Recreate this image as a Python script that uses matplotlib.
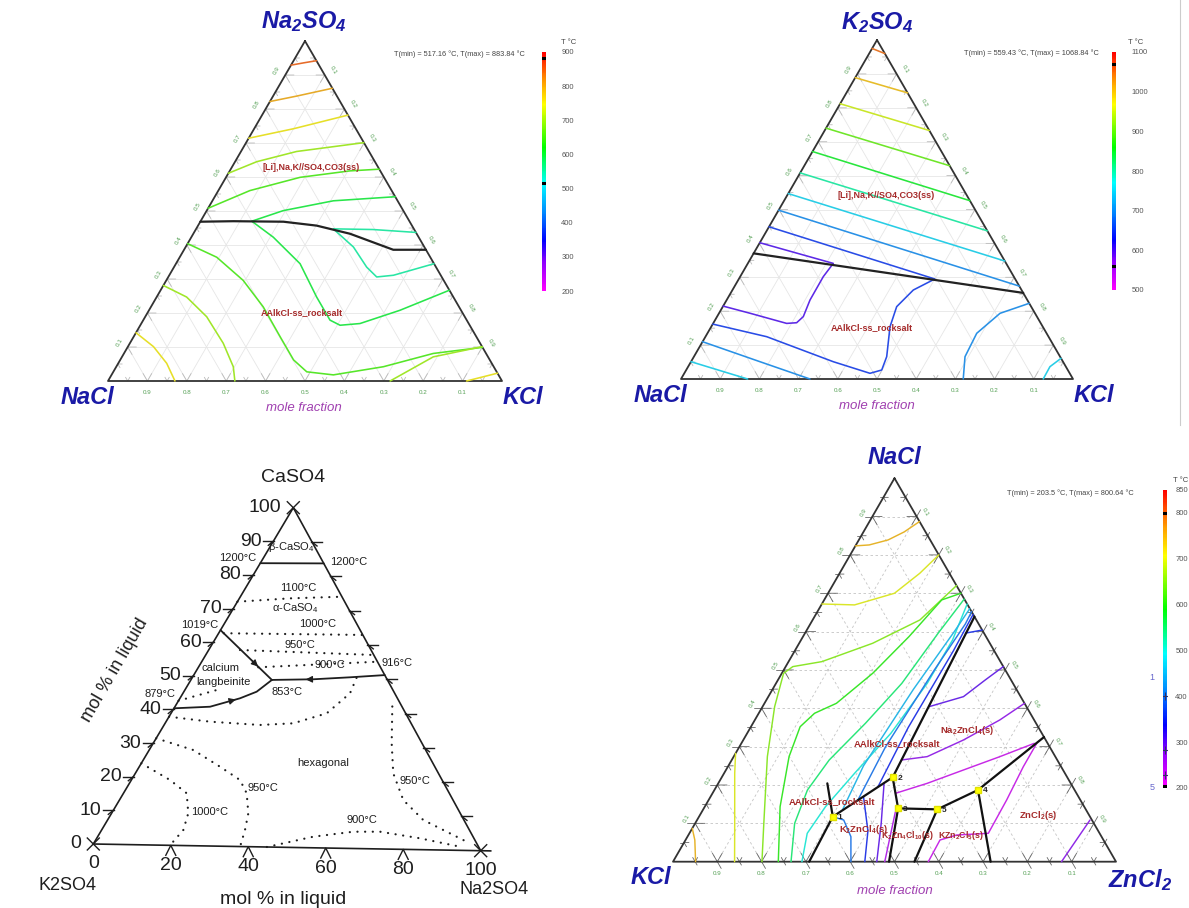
import numpy as np
import matplotlib
matplotlib.use("Agg")
import matplotlib.pyplot as plt
from matplotlib.colors import LinearSegmentedColormap, Normalize
import matplotlib.colorbar as mcolorbar

plt.rcParams['font.family'] = ['Liberation Sans', 'DejaVu Sans']

# ======================= DATA =======================
# Panel 1: Na2SO4 (top, a) - NaCl (left) - KCl (right, c); points are (a, c)
p1_iso_850 = [(0.929, 0.0), (0.936, 0.03), (0.942, 0.058)]
p1_iso_800 = [(0.822, 0.0), (0.838, 0.06), (0.861, 0.139)]
p1_iso_750 = [(0.714, 0.0), (0.742, 0.10), (0.782, 0.218)]
p1_iso_700 = [(0.611, 0.0), (0.645, 0.055), (0.675, 0.141), (0.701, 0.299)]
p1_iso_650 = [(0.508, 0.0), (0.560, 0.080), (0.599, 0.188), (0.618, 0.305), (0.623, 0.377)]
p1_iso_600 = [(0.542, 0.458), (0.530, 0.307), (0.501, 0.194), (0.470, 0.130), (0.423, 0.208),
              (0.345, 0.315), (0.247, 0.406), (0.179, 0.474), (0.164, 0.507), (0.169, 0.555),
              (0.208, 0.637), (0.267, 0.733)]
p1_iso_550 = [(0.437, 0.563), (0.4455, 0.45), (0.4475, 0.348), (0.394, 0.426), (0.335, 0.489),
              (0.306, 0.529), (0.311, 0.569), (0.345, 0.655)]
p1_iso_650b = [(0.404, 0.0), (0.364, 0.094), (0.296, 0.195), (0.218, 0.285), (0.130, 0.372),
               (0.062, 0.44), (0.027, 0.491), (0.018, 0.563), (0.042, 0.678), (0.081, 0.785),
               (0.099, 0.901)]
p1_iso_700b = [(0.281, 0.0), (0.247, 0.076), (0.189, 0.156), (0.111, 0.237), (0.042, 0.297), (0.0, 0.322)]
p1_iso_750b = [(0.142, 0.0), (0.101, 0.065), (0.052, 0.123), (0.0, 0.170)]
p1_iso_700c = [(0.0, 0.716), (0.071, 0.79), (0.101, 0.899)]
p1_iso_750c = [(0.0, 0.91), (0.023, 0.977)]
p1_temps = [850, 800, 750, 700, 650, 600, 550, 650, 700, 750, 700, 750]
p1_boundary = [(0.4685, 0.0), (0.470, 0.083), (0.4685, 0.211), (0.457, 0.301), (0.433, 0.398),
               (0.404, 0.480), (0.386, 0.531), (0.386, 0.614)]
p1_tmin, p1_tmax = 517.16, 883.84

# Panel 2: K2SO4 (top, a) - NaCl (left) - KCl (right, c)
p2_iso_1050 = [(0.975, 0.0), (0.96, 0.04)]
p2_iso_1000 = [(0.889, 0.0), (0.844, 0.156)]
p2_iso_950 = [(0.812, 0.0), (0.733, 0.267)]
p2_iso_900 = [(0.740, 0.0), (0.629, 0.371)]
p2_iso_850 = [(0.671, 0.0), (0.526, 0.474)]
p2_iso_800 = [(0.608, 0.0), (0.437, 0.563)]
p2_iso_750 = [(0.547, 0.0), (0.348, 0.652)]
p2_iso_700 = [(0.498, 0.0), (0.274, 0.726)]
p2_iso_650 = [(0.449, 0.0), (0.295, 0.50), (0.2625, 0.4614), (0.2134, 0.4435), (0.1544, 0.456),
              (0.0659, 0.4918), (0.0265, 0.4988), (0.0168, 0.4737), (0.051, 0.363),
              (0.1248, 0.1562), (0.162, 0.0)]
p2_iso_600 = [(0.402, 0.0), (0.341, 0.218), (0.302, 0.212), (0.233, 0.2126), (0.184, 0.22),
              (0.166, 0.212), (0.164, 0.1876), (0.194, 0.079), (0.215, 0.0)]
p2_iso_700b = [(0.11, 0.0), (0.051, 0.176), (0.0, 0.329)]
p2_iso_750b = [(0.051, 0.0), (0.0, 0.17)]
p2_iso_700c = [(0.2233, 0.7767), (0.1938, 0.717), (0.1348, 0.687), (0.0658, 0.6916), (0.0, 0.72)]
p2_iso_750c = [(0.061, 0.939), (0.0363, 0.923), (0.0, 0.924)]
p2_temps = [1050, 1000, 950, 900, 850, 800, 750, 700, 650, 600, 700, 750, 700, 750]
p2_boundary = [(0.3706, 0.0), (0.254, 0.746)]
p2_tmin, p2_tmax = 559.43, 1068.84

# Panel 3: CaSO4 (top, a) - K2SO4 (left) - Na2SO4 (right, c), mol fractions
p3_beta_alpha = [(0.835, 0.0), (0.8376, 0.1624)]
p3_1019_E = [(0.636, 0.0), (0.492, 0.207)]
p3_879_E = [(0.4035, 0.0), (0.410, 0.0897), (0.4363, 0.1534), (0.4566, 0.186), (0.492, 0.207)]
p3_916_E = [(0.512, 0.488), (0.5037, 0.4026), (0.496, 0.3118), (0.492, 0.207)]
p3_dot_1100 = [(0.7205, 0.0), (0.733, 0.129), (0.7405, 0.2595)]
p3_dot_1000 = [(0.627, 0.013), (0.629, 0.371)]
p3_dot_950 = [(0.5785, 0.080), (0.5706, 0.4294)]
p3_dot_900 = [(0.5285, 0.153), (0.551, 0.449)]
p3_dot_879 = [(0.426, 0.0), (0.4595, 0.0813)]
p3_dot_hex = [(0.3785, 0.0), (0.366, 0.1123), (0.3588, 0.245), (0.3654, 0.3276), (0.3965, 0.3978),
              (0.4566, 0.4269), (0.503, 0.42)]
p3_dot_950L = [(0.3143, 0.0), (0.2817, 0.1127), (0.234, 0.2062), (0.1958, 0.2776), (0.157, 0.3149),
               (0.0983, 0.3494), (0.049, 0.3663), (0.0, 0.379)]
p3_dot_1000L = [(0.24, 0.0), (0.1923, 0.0987), (0.154, 0.1616), (0.0952, 0.196), (0.0458, 0.2087),
                (0.0, 0.198)]
p3_dot_950R = [(0.42, 0.555), (0.3115, 0.6094), (0.2233, 0.659), (0.1452, 0.7252), (0.0874, 0.8066),
               (0.059, 0.873), (0.021, 0.9614)]
p3_dot_900B = [(0.0, 0.448), (0.0327, 0.551), (0.0494, 0.6456), (0.0508, 0.7138), (0.0334, 0.826),
               (0.0107, 0.941)]
p3_left_ticks = [0, 10, 20, 30, 40, 50, 60, 70, 80, 90, 100]
p3_bottom_ticks = [0, 20, 40, 60, 80, 100]

# Panel 4: NaCl (top, a) - KCl (left) - ZnCl2 (right, c)
p4_iso_750 = [(0.8235, 0.0), (0.826, 0.03), (0.839, 0.066), (0.86, 0.092), (0.887, 0.113)]
p4_iso_700 = [(0.672, 0.0), (0.6696, 0.075), (0.70, 0.15), (0.752, 0.181), (0.80, 0.20)]
p4_iso_650 = [(0.0, 0.2008), (0.10, 0.155), (0.274, 0.076), (0.4043, 0.0273), (0.4913, 0.004),
              (0.5087, 0.0161), (0.5217, 0.0752), (0.5696, 0.166), (0.6304, 0.2422), (0.72, 0.28)]
p4_iso_600 = [(0.0, 0.2377), (0.1435, 0.17), (0.274, 0.125), (0.352, 0.111), (0.387, 0.126),
              (0.413, 0.1624), (0.4913, 0.2052), (0.587, 0.2393), (0.6826, 0.2653), (0.70, 0.30)]
p4_iso_550 = [(0.0, 0.2664), (0.1, 0.2246), (0.187, 0.21), (0.265, 0.22), (0.361, 0.254),
              (0.465, 0.284), (0.5957, 0.3006), (0.685, 0.315)]
p4_iso_500 = [(0.0, 0.291), (0.074, 0.266), (0.1435, 0.2725), (0.2304, 0.2946), (0.3348, 0.3244),
              (0.465, 0.3413), (0.578, 0.342), (0.672, 0.328)]
p4_iso_450 = [(0.135, 0.315), (0.25, 0.305), (0.45, 0.318), (0.60, 0.335), (0.66, 0.34)]
p4_iso_400 = [(0.16, 0.337), (0.30, 0.33), (0.50, 0.34), (0.62, 0.35), (0.652, 0.348)]
p4_iso_350 = [(0.195, 0.365), (0.35, 0.356), (0.55, 0.358), (0.645, 0.355)]
p4_iso_750k = [(0.087, 0.0), (0.0565, 0.021), (0.0, 0.051)]
p4_iso_700k = [(0.2826, 0.0), (0.2304, 0.0241), (0.1, 0.0893), (0.0, 0.139)]
p4_iso_400k = [(0.1174, 0.302), (0.1087, 0.331), (0.0652, 0.369), (0.0, 0.4016)]
p4_iso_350k = [(0.0, 0.433), (0.08, 0.40), (0.17, 0.345)]
p4_iso_300k = [(0.0, 0.46), (0.1, 0.42), (0.205, 0.374)]
p4_iso_250k = [(0.0, 0.478), (0.13, 0.437)]
p4_iso_350n = [(0.596, 0.362), (0.604, 0.396)]
p4_iso_300n = [(0.4043, 0.376), (0.4304, 0.4405), (0.474, 0.468), (0.5087, 0.4913)]
p4_iso_275n = [(0.2652, 0.383), (0.274, 0.4368), (0.3174, 0.497), (0.3696, 0.5529), (0.413, 0.587)]
p4_iso_230n = [(0.1783, 0.413), (0.2043, 0.4716), (0.2391, 0.536), (0.2739, 0.6008), (0.3087, 0.6612)]
p4_iso_230z = [(0.0, 0.5763), (0.0566, 0.5744), (0.0696, 0.6056), (0.074, 0.6748), (0.161, 0.6727),
               (0.2477, 0.6669), (0.3087, 0.6667)]
p4_iso_280z = [(0.0, 0.877), (0.1087, 0.887)]
p4_temps = [750, 700, 650, 600, 550, 500, 450, 400, 350, 750, 700, 400, 350, 300, 250,
            350, 300, 275, 230, 230, 280]
p4_bnd_main = [(0.0, 0.3074), (0.1174, 0.302), (0.22, 0.3859), (0.639, 0.361)]
p4_bnd_short = [(0.1174, 0.302), (0.2043, 0.2462)]
p4_bnd_23b = [(0.22, 0.3859), (0.1391, 0.4386), (0.0, 0.4877)]
p4_bnd_35 = [(0.1391, 0.4386), (0.1365, 0.5284)]
p4_bnd_5b = [(0.1365, 0.5284), (0.0, 0.545)]
p4_bnd_54 = [(0.1365, 0.5284), (0.187, 0.595)]
p4_bnd_4e = [(0.187, 0.595), (0.325, 0.675)]
p4_bnd_4b = [(0.187, 0.595), (0.0, 0.717)]
p4_pt_a = [0.1174, 0.22, 0.1391, 0.187, 0.1365]
p4_pt_c = [0.302, 0.3859, 0.4386, 0.595, 0.5284]
p4_pt_names = ['1', '2', '3', '4', '5']
p4_tmin, p4_tmax = 203.5, 800.64

# ======================= LAYOUT =======================
W, H = 1189, 908
fig = plt.figure(figsize=(W / 100, H / 100), dpi=100)
ax = fig.add_axes([0, 0, 1, 1])
ax.set_xlim(0, W)
ax.set_ylim(H, 0)
ax.axis('off')

P1 = dict(T=(305, 41), L=(108, 381), R=(502, 381))
P2 = dict(T=(877, 40), L=(681, 379), R=(1073, 379))
P3 = dict(T=(293.3, 507.7), L=(93.3, 844), R=(480.7, 850.7))
P4 = dict(T=(894.5, 478.2), L=(673, 861.7), R=(1116, 861.7))

cmap = LinearSegmentedColormap.from_list('factsage', [
    (0.0, '#ff00ff'), (0.12, '#8c00ff'), (0.21, '#0000ff'), (0.32, '#0080ff'),
    (0.45, '#00ffff'), (0.6, '#00ff00'), (0.78, '#ffff00'), (0.88, '#ff9900'), (1.0, '#ff0000')])

BLUE = '#1a1aa6'
RED = '#a52a2a'
GREEN_LBL = '#55a055'
PURPLE = '#a040b0'


def tp(P, a, c):
    a = np.asarray(a, float)
    c = np.asarray(c, float)
    b = 1 - a - c
    x = b * P['L'][0] + a * P['T'][0] + c * P['R'][0]
    y = b * P['L'][1] + a * P['T'][1] + c * P['R'][1]
    return x, y


def plot_tern(P, pts, **kw):
    arr = np.array(pts, float)
    x, y = tp(P, arr[:, 0], arr[:, 1])
    kw.setdefault('solid_capstyle', 'round')
    kw.setdefault('solid_joinstyle', 'round')
    ax.plot(x, y, **kw)


def tcolor(T, vmin, vmax):
    c = np.array(cmap(Normalize(vmin, vmax)(T))[:3])
    return tuple(c * 0.74 + 0.16)


def fs_frame(P, dashed):
    if dashed:
        gkw = dict(color='#c4c4c4', lw=0.6, ls=(0, (3, 3)))
        tcol = '#666666'
    else:
        gkw = dict(color='#e6e6e6', lw=0.6)
        tcol = '#bbbbbb'
    for k in range(1, 10):
        f = k / 10
        plot_tern(P, [(f, 0), (f, 1 - f)], **gkw)
        plot_tern(P, [(0, f), (1 - f, f)], **gkw)
        plot_tern(P, [(0, 1 - f), (1 - f, 0)], **gkw)
    d = 0.022
    for k in range(1, 20):
        f = k / 20
        dd = d if k % 2 == 0 else d * 0.5
        plot_tern(P, [(dd, f), (0, f), (dd, f - dd)], color=tcol, lw=0.6)
        plot_tern(P, [(f, dd), (f, 0), (f - dd, dd)], color=tcol, lw=0.6)
        plot_tern(P, [(f, 1 - f - dd), (f, 1 - f), (f - dd, 1 - f)], color=tcol, lw=0.6)
        if dashed:
            plot_tern(P, [(f, 0), (f, -dd * 0.8)], color=tcol, lw=0.6)
            plot_tern(P, [(f, 1 - f), (f + dd * 0.8, 1 - f)], color=tcol, lw=0.6)
            plot_tern(P, [(0, f), (-dd * 0.8, f + dd * 0.8)], color=tcol, lw=0.6)
    plot_tern(P, [(1, 0), (0, 0), (0, 1), (1, 0)], color='#333333', lw=1.3)
    for k in range(1, 10):
        f = k / 10
        x, y = tp(P, f, 0)
        ax.text(x - 8.5, y - 4.5, f'{f:.1f}', rotation=60, fontsize=4.5, color=GREEN_LBL,
                ha='center', va='center')
        x, y = tp(P, 1 - f, f)
        ax.text(x + 8.5, y - 4.5, f'{f:.1f}', rotation=-60, fontsize=4.5, color=GREEN_LBL,
                ha='center', va='center')
        x, y = tp(P, 0, f)
        ax.text(x, y + 11.5, f'{1 - f:.1f}', fontsize=4.5, color=GREEN_LBL, ha='center', va='center')


def cbar(x0, y0, x1, y1, vmin, vmax, ticks, marks, pad):
    cax = fig.add_axes([x0 / W, 1 - y1 / H, (x1 - x0) / W, (y1 - y0) / H])
    cb = mcolorbar.ColorbarBase(cax, cmap=cmap, norm=Normalize(vmin, vmax), ticks=ticks)
    cb.outline.set_visible(False)
    cax.tick_params(length=0, labelsize=5.5, labelcolor='#555555', pad=pad)
    for m in marks:
        cax.axhline(m, color='black', lw=2.2)
    return cax


def title(x, y, s):
    ax.text(x, y, s, fontsize=17, fontweight='bold', fontstyle='italic', color=BLUE,
            ha='center', va='center')


ISO_LW = 1.15

# ======================= PANEL 1 =======================
fs_frame(P1, dashed=False)
p1_lines = [p1_iso_850, p1_iso_800, p1_iso_750, p1_iso_700, p1_iso_650, p1_iso_600, p1_iso_550,
            p1_iso_650b, p1_iso_700b, p1_iso_750b, p1_iso_700c, p1_iso_750c]
for pts, T in zip(p1_lines, p1_temps):
    plot_tern(P1, pts, color=tcolor(T, 200, 900), lw=ISO_LW)
plot_tern(P1, p1_boundary, color='#222222', lw=1.6)
title(304, 22, r'Na$\mathregular{_2}$SO$\mathregular{_4}$')
title(87, 397, 'NaCl')
title(523, 397, 'KCl')
ax.text(304, 408, 'mole fraction', fontsize=9.5, fontstyle='italic', color=PURPLE, ha='center', va='center')
ax.text(311, 168, '[Li],Na,K//SO4,CO3(ss)', fontsize=6.5, fontweight='bold', color=RED, ha='center', va='center')
ax.text(302, 313, 'AAlkCl-ss_rocksalt', fontsize=6.5, fontweight='bold', color=RED, ha='center', va='center')
ax.text(525, 54, f'T(min) = {p1_tmin} °C, T(max) = {p1_tmax} °C', fontsize=5.3, color='#444444',
        ha='right', va='center')
ax.text(569, 42, 'T °C', fontsize=5.5, color='#444444', ha='center', va='center')
cbar(542, 52, 546, 291, 200, 900, list(range(200, 901, 100)), [p1_tmax, p1_tmin], pad=11)

# ======================= PANEL 2 =======================
fs_frame(P2, dashed=False)
p2_lines = [p2_iso_1050, p2_iso_1000, p2_iso_950, p2_iso_900, p2_iso_850, p2_iso_800, p2_iso_750,
            p2_iso_700, p2_iso_650, p2_iso_600, p2_iso_700b, p2_iso_750b, p2_iso_700c, p2_iso_750c]
for pts, T in zip(p2_lines, p2_temps):
    plot_tern(P2, pts, color=tcolor(T, 500, 1100), lw=ISO_LW)
plot_tern(P2, p2_boundary, color='#222222', lw=1.6)
title(877, 23, r'K$\mathregular{_2}$SO$\mathregular{_4}$')
title(660, 395, 'NaCl')
title(1094, 395, 'KCl')
ax.text(877, 406, 'mole fraction', fontsize=9.5, fontstyle='italic', color=PURPLE, ha='center', va='center')
ax.text(886, 195, '[Li],Na,K//SO4,CO3(ss)', fontsize=6.5, fontweight='bold', color=RED, ha='center', va='center')
ax.text(872, 328, 'AAlkCl-ss_rocksalt', fontsize=6.5, fontweight='bold', color=RED, ha='center', va='center')
ax.text(1099, 53, f'T(min) = {p2_tmin} °C, T(max) = {p2_tmax} °C', fontsize=5.3, color='#444444',
        ha='right', va='center')
ax.text(1136, 42, 'T °C', fontsize=5.5, color='#444444', ha='center', va='center')
cbar(1112, 52, 1116, 290, 500, 1100, list(range(500, 1101, 100)), [p2_tmax, p2_tmin], pad=11)
ax.plot([1180, 1180], [0, 425], color='#cccccc', lw=0.8)

# ======================= PANEL 3 =======================
ink = '#1e1e1e'
plot_tern(P3, [(1, 0), (0, 0), (0, 1), (1, 0)], color=ink, lw=1.2)
x0, y0 = tp(P3, 0, 1)
ax.plot([x0, x0 + 10], [y0, y0 + 0.2], color=ink, lw=1.2)
for v in p3_left_ticks:
    f = v / 100
    x, y = tp(P3, f, 0)
    if 0 < v < 100:
        ax.plot([x - 10, x + 1], [y, y], color=ink, lw=1.0)
        ax.plot([x - 5, x], [y + 4, y], color=ink, lw=1.0)
        xr, yr = tp(P3, f, 1 - f)
        ax.plot([xr - 1, xr + 10], [yr, yr], color=ink, lw=1.0)
        ax.plot([xr + 5, xr], [yr + 4, yr], color=ink, lw=1.0)
    ax.text(x - 12, y, str(v), fontsize=14, color=ink, ha='right', va='center')
for v in p3_bottom_ticks:
    f = v / 100
    x, y = tp(P3, 0, f)
    if 0 < v < 100:
        ax.plot([x - 5, x, x + 5], [y + 10, y, y + 10], color=ink, lw=1.0)
    ax.text(x, y + 20, str(v), fontsize=14, color=ink, ha='center', va='center')
for (fa, fc) in [(1, 0), (0, 0), (0, 1)]:
    x, y = tp(P3, fa, fc)
    ax.plot([x - 6, x + 6], [y - 6, y + 6], color=ink, lw=1.0)
    ax.plot([x - 6, x + 6], [y + 6, y - 6], color=ink, lw=1.0)

for pts in [p3_beta_alpha, p3_1019_E, p3_879_E, p3_916_E]:
    plot_tern(P3, pts, color=ink, lw=1.3)
for pts in [p3_dot_1100, p3_dot_1000, p3_dot_950, p3_dot_900, p3_dot_879, p3_dot_hex,
            p3_dot_950L, p3_dot_1000L, p3_dot_950R, p3_dot_900B]:
    plot_tern(P3, pts, color=ink, lw=1.6, ls=(0, (0.05, 3.4)), dash_capstyle='round')


def arrow_on(P, pts, i, frac):
    p0 = np.array(pts[i], float)
    p1 = np.array(pts[i + 1], float)
    tail = p0 + (frac - 0.15) * (p1 - p0)
    tip = p0 + (frac + 0.05) * (p1 - p0)
    xt, yt = tp(P, tail[0], tail[1])
    xh, yh = tp(P, tip[0], tip[1])
    ax.annotate('', xy=(xh, yh), xytext=(xt, yt),
                arrowprops=dict(arrowstyle='-|>', color=ink, lw=0.8, mutation_scale=10))


arrow_on(P3, p3_1019_E, 0, 0.72)
arrow_on(P3, p3_879_E, 1, 0.9)
arrow_on(P3, p3_916_E, 2, 0.2)

fs3 = 8
for (x, y, s) in [(291, 547.3, '\u03b2-CaSO$\\mathregular{_4}$'), (238, 558, '1200°C'), (349, 562, '1200°C'),
                  (298, 588, '1100°C'), (295, 608, '\u03b1-CaSO$\\mathregular{_4}$'), (200, 625, '1019°C'),
                  (318, 624, '1000°C'), (300, 645, '950°C'), (330, 665, '900°C'), (397, 663, '916°C'),
                  (220, 668, 'calcium'), (223, 682, 'langbeinite'), (287, 692, '853°C'),
                  (160, 694, '879°C'), (323, 763, 'hexagonal'), (263, 788, '950°C'),
                  (210, 812, '1000°C'), (415, 781, '950°C'), (362, 820, '900°C')]:
    ax.text(x, y, s, fontsize=fs3, color=ink, ha='center', va='center')
ax.text(293, 478, 'CaSO4', fontsize=14, color=ink, ha='center', va='center')
ax.text(68, 886, 'K2SO4', fontsize=13, color=ink, ha='center', va='center')
ax.text(494, 890, 'Na2SO4', fontsize=13, color=ink, ha='center', va='center')
ax.text(283, 899, 'mol % in liquid', fontsize=14, color=ink, ha='center', va='center')
ax.text(115, 670, 'mol % in liquid', fontsize=13, color=ink, ha='center', va='center', rotation=60)

# ======================= PANEL 4 =======================
fs_frame(P4, dashed=True)
p4_lines = [p4_iso_750, p4_iso_700, p4_iso_650, p4_iso_600, p4_iso_550, p4_iso_500, p4_iso_450,
            p4_iso_400, p4_iso_350, p4_iso_750k, p4_iso_700k, p4_iso_400k, p4_iso_350k, p4_iso_300k,
            p4_iso_250k, p4_iso_350n, p4_iso_300n, p4_iso_275n, p4_iso_230n, p4_iso_230z, p4_iso_280z]
for pts, T in zip(p4_lines, p4_temps):
    plot_tern(P4, pts, color=tcolor(T, 200, 850), lw=1.05)
for pts in [p4_bnd_main, p4_bnd_short, p4_bnd_23b, p4_bnd_35, p4_bnd_5b, p4_bnd_54, p4_bnd_4e, p4_bnd_4b]:
    plot_tern(P4, pts, color='#111111', lw=1.6)
px, py = tp(P4, p4_pt_a, p4_pt_c)
ax.plot(px, py, ls='none', marker='s', ms=4.5, color='#ffff00', mec='#e0e000')
for x, y, n in zip(px, py, p4_pt_names):
    ax.text(x + 7, y + 1, n, fontsize=6, fontweight='bold', color='#222222', ha='center', va='center')
title(894.5, 458, 'NaCl')
title(651, 877, 'KCl')
title(1140, 880, r'ZnCl$\mathregular{_2}$')
ax.text(894.5, 891, 'mole fraction', fontsize=9.5, fontstyle='italic', color=PURPLE, ha='center', va='center')
for (x, y, s, fs) in [(966.7, 730.7, r'Na$\mathregular{_2}$ZnCl$\mathregular{_4}$(s)', 6.8),
                      (896.7, 743.3, 'AAlkCl-ss_rocksalt', 6.8), (831.7, 801.7, 'AAlkCl-ss_rocksalt', 6.8),
                      (863.3, 829.3, r'K$\mathregular{_2}$ZnCl$\mathregular{_4}$(s)', 6.8),
                      (907, 835, r'K$\mathregular{_2}$Zn$\mathregular{_4}$Cl$\mathregular{_{10}}$(s)', 6.3),
                      (961, 835, r'KZn$\mathregular{_2}$Cl$\mathregular{_5}$(s)', 6.3),
                      (1038.3, 815, r'ZnCl$\mathregular{_2}$(s)', 6.8)]:
    ax.text(x, y, s, fontsize=fs, fontweight='bold', color=RED, ha='center', va='center')
ax.text(1134, 493, f'T(min) = {p4_tmin} °C, T(max) = {p4_tmax} °C', fontsize=5.3, color='#444444',
        ha='right', va='center')
ax.text(1181, 481, 'T °C', fontsize=5.5, color='#444444', ha='center', va='center')
cax4 = cbar(1163, 490, 1167, 788, 200, 850, [200, 300, 400, 500, 600, 700, 800, 850],
            [p4_tmax, p4_tmin], pad=6)
cax4.plot([0.5, 0.5, 0.5], [400, 283, 228], ls='none', marker='+', ms=6, color='#333366', mew=0.8)
ax.text(1152, 678, '1', fontsize=6.5, color='#6666cc', ha='center', va='center')
ax.text(1152, 787, '5', fontsize=6.5, color='#6666cc', ha='center', va='center')

fig.savefig('out.png', dpi=100)
